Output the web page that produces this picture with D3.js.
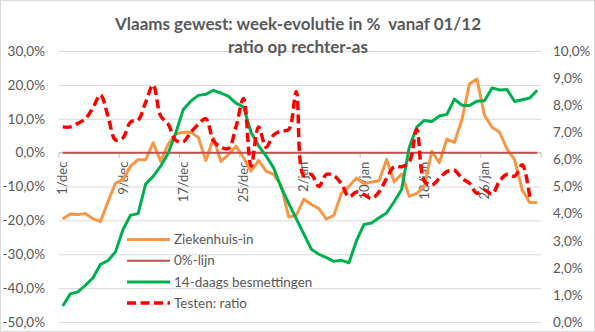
<!DOCTYPE html>
<html><head><meta charset="utf-8">
<script src="https://cdn.jsdelivr.net/npm/d3@7"></script>
<style>
body{margin:0;background:#fff}
svg{display:block}
text{font-family:Lato,'Open Sans',sans-serif;fill:#595959}
</style>
</head><body>
<svg id="chart" width="595" height="332"></svg>
<script>
const categories = [
 "1/dec","2/dec","3/dec","4/dec","5/dec","6/dec","7/dec","8/dec","9/dec","10/dec",
 "11/dec","12/dec","13/dec","14/dec","15/dec","16/dec","17/dec","18/dec","19/dec","20/dec",
 "21/dec","22/dec","23/dec","24/dec","25/dec","26/dec","27/dec","28/dec","29/dec","30/dec",
 "31/dec","1/jan","2/jan","3/jan","4/jan","5/jan","6/jan","7/jan","8/jan","9/jan",
 "10/jan","11/jan","12/jan","13/jan","14/jan","15/jan","16/jan","17/jan","18/jan","19/jan",
 "20/jan","21/jan","22/jan","23/jan","24/jan","25/jan","26/jan","27/jan","28/jan","29/jan",
 "30/jan","31/jan","1/feb","2/feb"];
const labelCategories = ["1/dec","9/dec","17/dec","25/dec","2/jan","10/jan","18/jan","26/jan"];
const tickCategories = ["1/dec","9/dec","17/dec","25/dec","2/jan","10/jan","18/jan","26/jan"];

// Ziekenhuis-in (left axis, %)
const ziekenhuis = [
 -19.6,-18.1,-18.3,-18.0,-19.5,-20.4,-14.5,-9.0,-8.0,-4.0,
 -2.1,-2.1,2.9,-2.6,2.5,5.5,6.0,6.0,4.5,-2.3,
 4.3,-2.6,-0.6,1.9,-1.5,-5.5,-2.3,-5.5,-6.4,-9.7,
 -19.0,-18.5,-13.7,-15.3,-16.5,-19.6,-18.5,-12.0,-9.9,-7.5,
 -9.2,-8.7,-8.3,-2.0,-8.7,-6.3,-12.9,-12.0,-10.0,0.4,
 -3.0,4.0,3.0,9.7,20.3,21.7,11.0,7.5,6.0,1.0,
 -2.1,-11.0,-14.7,-14.7];
// 0%-lijn (left axis)
const nulLijn = [
 0,0,0,0,0,0,0,0,0,0, 0,0,0,0,0,0,0,0,0,0,
 0,0,0,0,0,0,0,0,0,0, 0,0,0,0,0,0,0,0,0,0,
 0,0,0,0,0,0,0,0,0,0, 0,0,0,0,0,0,0,0,0,0,
 0,0,0,0];
// 14-daags besmettingen (left axis, %)
const besmettingen = [
 -45.3,-41.7,-41.1,-39.2,-37.0,-33.0,-31.9,-29.3,-22.7,-18.5,
 -18.0,-9.3,-7.0,-4.0,-0.2,5.8,12.7,15.2,16.9,17.2,
 18.4,17.6,16.6,14.6,13.5,6.0,2.0,-1.0,-4.5,-10.3,
 -15.0,-19.5,-24.0,-28.5,-30.0,-31.0,-32.1,-31.8,-32.5,-26.0,
 -21.2,-20.8,-19.2,-17.8,-14.5,-10.9,1.5,7.5,9.5,9.2,
 10.8,11.3,15.8,14.0,13.9,15.2,15.3,19.1,18.5,18.6,
 15.1,15.6,16.1,18.4];
// Testen: ratio (right axis, %)
const testenRatio = [
 7.2,7.2,7.33,7.5,7.9,8.38,7.6,6.72,6.8,7.38,
 7.45,8.1,8.75,7.6,7.3,6.7,6.65,7.0,7.3,7.5,
 6.7,6.45,6.4,7.2,8.25,5.75,7.2,6.45,6.9,7.05,
 7.1,8.5,5.4,5.45,5.0,5.45,5.4,5.1,4.62,4.8,
 4.7,4.56,4.8,5.3,5.73,5.73,5.9,7.1,5.2,5.05,
 5.3,5.55,5.6,5.3,5.12,4.75,4.87,4.72,5.2,5.45,
 5.38,5.8,4.62,null];

const leftTicks = [-50,-40,-30,-20,-10,0,10,20,30];
const rightTicks = [0,1,2,3,4,5,6,7,8,9,10];
const titleLines = ["Vlaams gewest: week-evolutie in %\u00a0 vanaf 01/12","ratio op rechter-as"];
const legendItems = [
 {name:"Ziekenhuis-in", color:"#F79646", width:3, dash:null},
 {name:"0%-lijn", color:"#C0504D", width:2, dash:null},
 {name:"14-daags besmettingen", color:"#00B050", width:3, dash:null},
 {name:"Testen: ratio", color:"#FF0000", width:3.5, dash:"9,4.5"}
];

const svg = d3.select("#chart");
const W = 595, H = 332;
const plot = {left:59, right:541, top:51, bottom:322};

svg.append("rect").attr("x",0.5).attr("y",0.5).attr("width",W-1).attr("height",H-1)
  .attr("fill","#fff").attr("stroke","#D9D9D9");

const x = d3.scaleBand().domain(categories).range([plot.left, plot.right]).padding(0);
const bw = x.bandwidth();
const yL = d3.scaleLinear().domain([-50,30]).range([plot.bottom, plot.top]);
const yR = d3.scaleLinear().domain([0,10]).range([plot.bottom, plot.top]);
const fmt = v => d3.format(".1f")(v).replace(".", ",").replace("\u2212","-") + "%";

// left axis + gridlines
const gL = svg.append("g").attr("transform",`translate(${plot.left},0)`)
  .call(d3.axisLeft(yL).tickValues(leftTicks).tickSize(-(plot.right-plot.left)).tickPadding(14).tickFormat(fmt));
gL.select(".domain").remove();
gL.selectAll(".tick line").attr("stroke","#D9D9D9").attr("stroke-width",1);
gL.selectAll(".tick text").style("font-size","13.5px").style("font-family","Lato").attr("fill","#595959");

// right axis
const gR = svg.append("g").attr("transform",`translate(${plot.right},0)`)
  .call(d3.axisRight(yR).tickValues(rightTicks).tickSize(0).tickPadding(12).tickFormat(fmt));
gR.select(".domain").remove();
gR.selectAll(".tick text").style("font-size","13.5px").style("font-family","Lato").attr("fill","#595959");

// category axis at 0
const y0 = yL(0);
svg.append("line").attr("x1",plot.left).attr("x2",plot.right).attr("y1",y0).attr("y2",y0)
  .attr("stroke","#BFBFBF").attr("stroke-width",1);
const tickXs = tickCategories.map(c => x(c)).concat([x.range()[1]]);
svg.selectAll(".cattick").data(tickXs).enter().append("line")
  .attr("x1",d=>d).attr("x2",d=>d).attr("y1",y0).attr("y2",y0+5)
  .attr("stroke","#BFBFBF").attr("stroke-width",1);

const gX = svg.append("g").attr("transform",`translate(0,${y0})`)
  .call(d3.axisBottom(x).tickValues(labelCategories).tickSize(0).tickPadding(0));
gX.select(".domain").remove();
gX.selectAll(".tick text")
  .attr("transform","rotate(-90)")
  .attr("x",-9).attr("y",0).attr("dy","0.35em")
  .attr("text-anchor","end")
  .style("font-size","13px").style("font-family","Lato").attr("fill","#595959");

// series
const cx = (d,i) => x(categories[i]) + bw/2;
const lineL = d3.line().defined(d=>d!=null).x(cx).y(d=>yL(d));
const lineR = d3.line().defined(d=>d!=null).x(cx).y(d=>yR(d)).curve(d3.curveCatmullRom.alpha(0.5));

svg.append("path").datum(ziekenhuis).attr("d",lineL).attr("fill","none")
  .attr("stroke",legendItems[0].color).attr("stroke-width",3).attr("stroke-linejoin","round");
svg.append("path").datum(nulLijn).attr("d",lineL).attr("fill","none")
  .attr("stroke",legendItems[1].color).attr("stroke-width",2);
svg.append("path").datum(besmettingen).attr("d",lineL).attr("fill","none")
  .attr("stroke",legendItems[2].color).attr("stroke-width",3).attr("stroke-linejoin","round");
svg.append("path").datum(testenRatio).attr("d",lineR).attr("fill","none")
  .attr("stroke",legendItems[3].color).attr("stroke-width",legendItems[3].width)
  .attr("stroke-dasharray",legendItems[3].dash);

// title
svg.append("g").selectAll("text").data(titleLines).enter().append("text")
  .attr("x",298).attr("y",(d,i)=>30 + i*23)
  .attr("text-anchor","middle")
  .style("font-size","17px").style("font-weight","bold").text(d=>d);

// legend
const lg = svg.append("g");
const leg = lg.selectAll("g").data(legendItems).enter().append("g")
  .attr("transform",(d,i)=>`translate(127,${239.5 + i*21.2})`);
leg.append("line").attr("x1",0).attr("x2",43).attr("y1",0).attr("y2",0)
  .attr("stroke",d=>d.color).attr("stroke-width",d=>d.width)
  .attr("stroke-dasharray",d=>d.dash);
leg.append("text").attr("x",47).attr("y",0).attr("dy","0.35em")
  .style("font-size","13.5px").text(d=>d.name);
</script>
</body></html>
